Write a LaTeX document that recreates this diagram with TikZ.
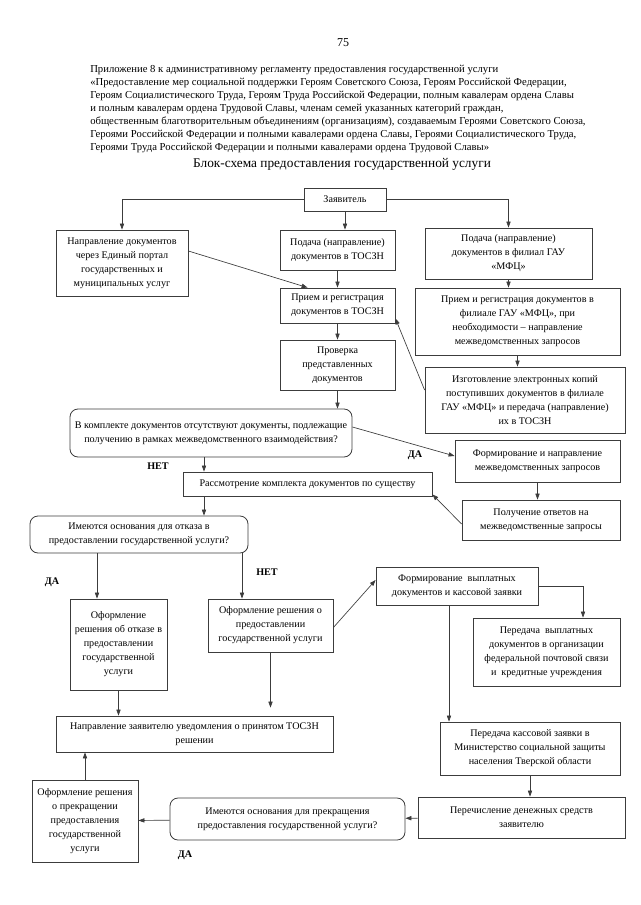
\documentclass[tikz,border=0pt]{standalone}
\usepackage{fontspec}
\setmainfont{Liberation Serif}
\usetikzlibrary{positioning,arrows.meta,calc}
\definecolor{linecolor}{RGB}{60,60,60}

\begin{document}
\begin{tikzpicture}[x=0.75pt,y=-0.75pt,
    stepbox/.style={rectangle, draw=linecolor, line width=0.6pt, align=center, inner sep=1pt, font=\fontsize{7.6}{10.5}\selectfont},
    askbox/.style={stepbox, rounded corners=6pt},
    arr/.style={draw=linecolor, line width=0.5pt, -{Triangle[length=4.5pt,width=3.2pt]}},
    lbl/.style={font=\fontsize{7.6}{9}\selectfont\bfseries}
]
\useasboundingbox (0,0) rectangle (640,905);

\node (pagenum) at (343,43) {\fontsize{9}{11}\selectfont 75};
\node[anchor=north west, align=left, inner sep=0pt, font=\fontsize{8}{9.75}\selectfont] (header) at (90,65) {%
Приложение 8 к административному регламенту предоставления государственной услуги\\
«Предоставление мер социальной поддержки Героям Советского Союза, Героям Российской Федерации,\\
Героям Социалистического Труда, Героям Труда Российской Федерации, полным кавалерам ордена Славы\\
и полным кавалерам ордена Трудовой Славы, членам семей указанных категорий граждан,\\
общественным благотворительным объединениям (организациям), создаваемым Героями Советского Союза,\\
Героями Российской Федерации и полными кавалерами ордена Славы, Героями Социалистического Труда,\\
Героями Труда Российской Федерации и полными кавалерами ордена Трудовой Славы»};
\node[font=\fontsize{10}{12}\selectfont] (title) at (342,164) {Блок-схема предоставления государственной услуги};

\node[stepbox, minimum width=61.5pt, minimum height=17.25pt] (zayav) at (345,199.5) {Заявитель};
\node[stepbox, minimum width=99pt, minimum height=49.5pt] (portal) at (122,263) {Направление документов\\через Единый портал\\государственных и\\муниципальных услуг};
\node[stepbox, minimum width=86.25pt, minimum height=30pt] (podT) at (337.5,250) {Подача (направление)\\документов в ТОСЗН};
\node[stepbox, minimum width=125.25pt, minimum height=38.25pt] (podM) at (508.5,253.5) {Подача (направление)\\документов в филиал ГАУ\\«МФЦ»};
\node[stepbox, minimum width=86.25pt, minimum height=26.25pt] (priT) at (337.5,305.5) {Прием и регистрация\\документов в ТОСЗН};
\node[stepbox, minimum width=153.75pt, minimum height=50.25pt] (priM) at (517.5,321.5) {Прием и регистрация документов в\\филиале ГАУ «МФЦ», при\\необходимости – направление\\межведомственных запросов};
\node[stepbox, minimum width=86.25pt, minimum height=37.5pt] (prov) at (337.5,365) {Проверка\\представленных\\документов};
\node[stepbox, minimum width=150pt, minimum height=49.5pt] (izg) at (525,400) {Изготовление электронных копий\\поступивших документов в филиале\\ГАУ «МФЦ» и передача (направление)\\их в ТОСЗН};
\node[askbox, minimum width=211.5pt, minimum height=36pt] (q1) at (211,433) {В комплекте документов отсутствуют документы, подлежащие\\получению в рамках межведомственного взаимодействия?};
\node[stepbox, minimum width=123.75pt, minimum height=31.5pt] (form) at (537.5,461) {Формирование и направление\\межведомственных запросов};
\node[stepbox, minimum width=186.75pt, minimum height=18pt] (rass) at (307.5,484) {Рассмотрение комплекта документов по существу};
\node[stepbox, minimum width=118.5pt, minimum height=30pt] (otv) at (541,520) {Получение ответов на\\межведомственные запросы};
\node[askbox, minimum width=163.5pt, minimum height=27.75pt] (q2) at (139,534.5) {Имеются основания для отказа в\\предоставлении государственной услуги?};
\node[stepbox, minimum width=121.5pt, minimum height=28.5pt] (vypl) at (457,586) {Формирование~~выплатных\\документов и кассовой заявки};
\node[stepbox, minimum width=72.75pt, minimum height=68.25pt] (otkaz) at (118.5,644.5) {Оформление\\решения об отказе в\\предоставлении\\государственной\\услуги};
\node[stepbox, minimum width=93.75pt, minimum height=39.75pt] (resh) at (270.5,625.5) {Оформление решения о\\предоставлении\\государственной услуги};
\node[stepbox, minimum width=110.25pt, minimum height=51pt] (pered) at (546.5,652) {Передача~~выплатных\\документов в организации\\федеральной почтовой связи\\и~~кредитные учреждения};
\node[stepbox, minimum width=207.75pt, minimum height=27pt] (uved) at (194.5,734) {Направление заявителю уведомления о принятом ТОСЗН\\решении};
\node[stepbox, minimum width=135pt, minimum height=39.75pt] (kass) at (530,748.5) {Передача кассовой заявки в\\Министерство социальной защиты\\населения Тверской области};
\node[stepbox, minimum width=79.5pt, minimum height=61.5pt] (prekr) at (85,821) {Оформление решения\\о прекращении\\предоставления\\государственной\\услуги};
\node[askbox, minimum width=176.25pt, minimum height=31.5pt] (q3) at (287.5,819) {Имеются основания для прекращения\\предоставления государственной услуги?};
\node[stepbox, minimum width=155.25pt, minimum height=30.75pt] (perech) at (521.5,817.5) {Перечисление денежных средств\\заявителю};

\coordinate (colA) at (204,0);
\coordinate (colB) at (97,0);
\coordinate (colC) at (242,0);
\coordinate (colD) at (583,0);
\coordinate (colE) at (449,0);

\draw[arr] (zayav.west) -| (portal.north);
\draw[arr] (zayav.south) -- (zayav.south |- podT.north);
\draw[arr] (zayav.east) -| (podM.north);
\draw[arr] ($(portal.east)+(0,-12)$) -- ($(priT.north west)+(28,0)$);
\draw[arr] (podT) -- (priT);
\draw[arr] (podM.south) -- (podM.south |- priM.north);
\draw[arr] (priM.south) -- (priM.south |- izg.north);
\draw[arr] ($(izg.west)+(0,-10)$) -- ($(priT.south east)+(0,-5)$);
\draw[arr] (priT) -- (prov);
\draw[arr] (prov.south) -- (prov.south |- q1.north);
\draw[arr] ($(q1.east)+(0,-6)$) -- ($(form.west)+(0,-5)$);
\draw[arr] (q1.south -| colA) -- (rass.north -| colA);
\draw[arr] (form.south) -- (form.south |- otv.north);
\draw[arr] ($(otv.west)+(0,4)$) -- ($(rass.south east)+(0,-2)$);
\draw[arr] (rass.south -| colA) -- (q2.north -| colA);
\draw[arr] (q2.south -| colB) -- (otkaz.north -| colB);
\draw[arr] (q2.south -| colC) -- (resh.north -| colC);
\draw[arr] ($(resh.east)+(0,2)$) -- ($(vypl.west)+(0,-6)$);
\draw[arr] (vypl.east) -| (pered.north -| colD);
\draw[arr] (vypl.south -| colE) -- (kass.north -| colE);
\draw[arr] (otkaz) -- (otkaz |- uved.north);
\draw[arr, shorten >=6pt] (resh) -- (resh |- uved.north);
\draw[arr] (kass.south) -- (kass.south |- perech.north);
\draw[arr] (perech) -- (q3);
\draw[arr] (q3) -- (prekr);
\draw[arr] (prekr) -- (prekr |- uved.south);

\node[lbl] (yes1) at (415,455) {ДА};
\node[lbl] (no1) at (158,466) {НЕТ};
\node[lbl] (yes2) at (52,582) {ДА};
\node[lbl] (no2) at (267,572) {НЕТ};
\node[lbl] (yes3) at (185,855) {ДА};
\end{tikzpicture}
\end{document}
